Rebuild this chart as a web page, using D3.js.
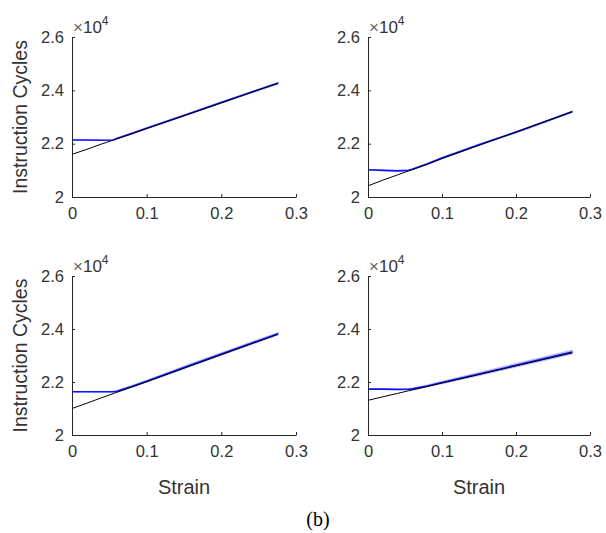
<!DOCTYPE html>
<html><head><meta charset="utf-8">
<script src="https://cdn.jsdelivr.net/npm/d3@7/dist/d3.min.js"></script>
<style>body{margin:0;background:#fff}svg{display:block}</style>
</head><body>
<script>
// ---- data (values in units of 10^4 instruction cycles) ----
const strain = [0, 0.02, 0.04, 0.055, 0.06, 0.08, 0.1, 0.15, 0.2, 0.25, 0.276];
const xTicks = [0, 0.1, 0.2, 0.3];
const xTickLabels = ["0", "0.1", "0.2", "0.3"];
const yTicks = [2, 2.2, 2.4, 2.6];
const yTickLabels = ["2", "2.2", "2.4", "2.6"];

const tlBlack = [2.160, 2.179, 2.199, 2.213, 2.218, 2.237, 2.257, 2.305, 2.353, 2.402, 2.427];
const tlBlue  = [2.214, 2.214, 2.213, 2.214, 2.219, 2.238, 2.258, 2.306, 2.354, 2.402, 2.427];
const tlSpread= [0, 0, 0, 0, 0.001, 0.002, 0.002, 0.002, 0.002, 0.002, 0.002];

const trBlack = [2.042, 2.063, 2.083, 2.098, 2.103, 2.123, 2.144, 2.194, 2.244, 2.294, 2.320];
const trBlue  = [2.102, 2.100, 2.098, 2.100, 2.104, 2.124, 2.146, 2.196, 2.243, 2.293, 2.320];
const trSpread= [0, 0, 0, 0, 0.001, 0.002, 0.002, 0.002, 0.002, 0.002, 0.002];

const blBlack = [2.100, 2.120, 2.141, 2.156, 2.161, 2.181, 2.201, 2.252, 2.303, 2.354, 2.380];
const blBlue  = [2.163, 2.163, 2.163, 2.163, 2.165, 2.183, 2.203, 2.255, 2.306, 2.356, 2.382];
const blSpread= [0, 0, 0, 0, 0.002, 0.003, 0.003, 0.004, 0.004, 0.004, 0.004];

const brBlack = [2.131, 2.144, 2.157, 2.167, 2.170, 2.183, 2.196, 2.228, 2.261, 2.293, 2.310];
const brBlue  = [2.173, 2.173, 2.172, 2.173, 2.174, 2.185, 2.198, 2.230, 2.263, 2.296, 2.313];
const brSpread= [0, 0, 0, 0, 0.002, 0.003, 0.004, 0.005, 0.006, 0.006, 0.006];

const yLabel = "Instruction Cycles";
const xLabel = "Strain";
const caption = "(b)";

// ---- layout ----
const W = 606, H = 533;
const panels = [
  {black: tlBlack, blue: tlBlue, spread: tlSpread, x0: 72,  x1: 296, y0: 37,  y1: 197, ylab: true,  xlab: false},
  {black: trBlack, blue: trBlue, spread: trSpread, x0: 368, x1: 590, y0: 37,  y1: 197, ylab: false, xlab: false},
  {black: blBlack, blue: blBlue, spread: blSpread, x0: 72,  x1: 296, y0: 276, y1: 435, ylab: true,  xlab: true},
  {black: brBlack, blue: brBlue, spread: brSpread, x0: 368, x1: 590, y0: 276, y1: 435, ylab: false, xlab: true}
];
const axisColor = "#262626";
const textColor = "#333333";
const font = "Liberation Sans, Arial, Helvetica, sans-serif";

const svg = d3.select("body").append("svg").attr("width", W).attr("height", H);

panels.forEach(p => {
  const x = d3.scaleLinear().domain([0, 0.3]).range([p.x0, p.x1]);
  const y = d3.scaleLinear().domain([2, 2.6]).range([p.y1, p.y0]);
  const g = svg.append("g");

  const pts = strain.map((s, i) => ({s, blk: p.black[i], blu: p.blue[i], sp: p.spread[i]}));

  // confidence band
  g.append("path").datum(pts)
    .attr("d", d3.area().x(d => x(d.s)).y0(d => y(d.blu - d.sp)).y1(d => y(d.blu + d.sp)))
    .attr("fill", "#b8bdff").attr("stroke", "#b8bdff").attr("stroke-width", 1.5);
  // blue line
  g.append("path").datum(pts)
    .attr("d", d3.line().x(d => x(d.s)).y(d => y(d.blu)))
    .attr("fill", "none").attr("stroke", "#1010ff").attr("stroke-width", 1.6);
  // black line
  g.append("path").datum(pts)
    .attr("d", d3.line().x(d => x(d.s)).y(d => y(d.blk)))
    .attr("fill", "none").attr("stroke", "#000").attr("stroke-width", 1);

  // axes (MATLAB style: inward ticks, no box)
  const xa = d3.axisBottom(x).tickValues(xTicks).tickFormat((d, i) => xTickLabels[i])
    .tickSizeInner(-3).tickSizeOuter(0).tickPadding(10);
  const ya = d3.axisLeft(y).tickValues(yTicks).tickFormat((d, i) => yTickLabels[i])
    .tickSizeInner(-3).tickSizeOuter(0).tickPadding(8);
  const gx = g.append("g").attr("transform", `translate(0,${p.y1})`).call(xa);
  const gy = g.append("g").attr("transform", `translate(${p.x0},0)`).call(ya);
  [gx, gy].forEach(a => {
    a.select(".domain").attr("stroke", axisColor).attr("stroke-width", 1);
    a.selectAll(".tick line").attr("stroke", axisColor);
    a.selectAll(".tick text").attr("fill", textColor).style("font-family", font).style("font-size", "16.5px");
  });

  // exponent label
  const ex = g.append("text").attr("x", p.x0 + 1).attr("y", p.y0 - 4)
    .attr("fill", textColor).style("font-family", font).style("font-size", "17px");
  ex.append("tspan").attr("fill", "#666").text("\u00d7");
  ex.append("tspan").text("10");
  ex.append("tspan").attr("dy", -8).style("font-size", "12px").text("4");

  if (p.ylab) {
    g.append("text")
      .attr("transform", `translate(${p.x0 - 45},${(p.y0 + p.y1) / 2}) rotate(-90)`)
      .attr("text-anchor", "middle").attr("fill", textColor)
      .style("font-family", font).style("font-size", "19.5px").text(yLabel);
  }
  if (p.xlab) {
    g.append("text").attr("x", (p.x0 + p.x1) / 2).attr("y", p.y1 + 59)
      .attr("text-anchor", "middle").attr("fill", textColor)
      .style("font-family", font).style("font-size", "20px").text(xLabel);
  }
});

svg.append("text").attr("x", 318).attr("y", 526).attr("text-anchor", "middle")
  .attr("fill", "#000").style("font-family", "Liberation Serif, Times New Roman, serif")
  .style("font-size", "20px").text(caption);
</script>
</body></html>
